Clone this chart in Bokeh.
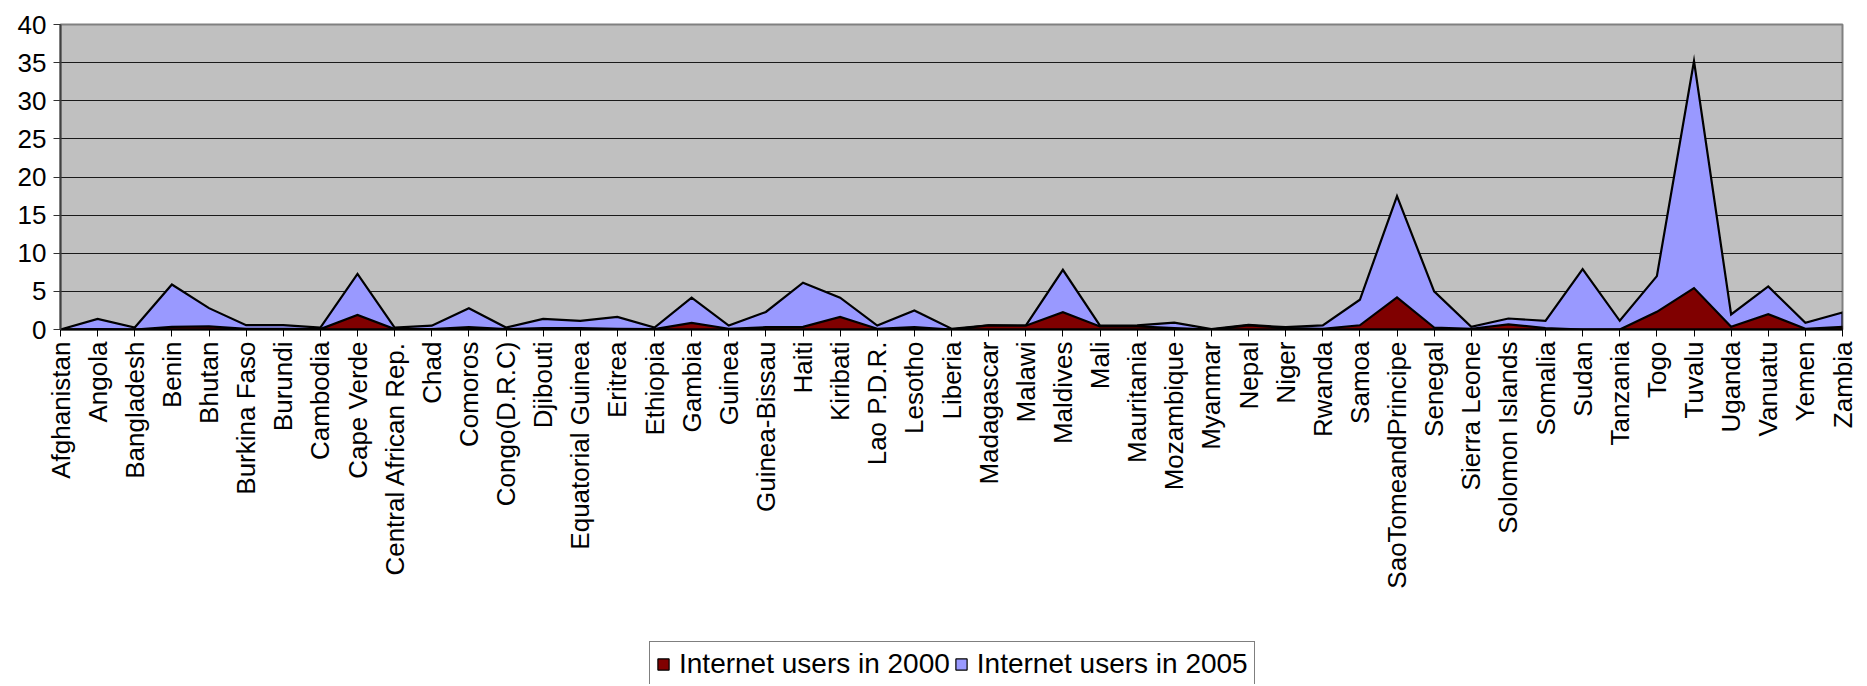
import math
from bokeh.plotting import figure
from bokeh.layouts import column
from bokeh.models import Range1d, FixedTicker, Legend, LegendItem, ColumnDataSource
from bokeh.embed import file_html
from bokeh.resources import INLINE

countries = ["Afghanistan", "Angola", "Bangladesh", "Benin", "Bhutan", "Burkina Faso",
             "Burundi", "Cambodia", "Cape Verde", "Central African Rep.", "Chad", "Comoros",
             "Congo(D.R.C)", "Djibouti", "Equatorial Guinea", "Eritrea", "Ethiopia", "Gambia",
             "Guinea", "Guinea-Bissau", "Haiti", "Kiribati", "Lao P.D.R.", "Lesotho", "Liberia",
             "Madagascar", "Malawi", "Maldives", "Mali", "Mauritania", "Mozambique", "Myanmar",
             "Nepal", "Niger", "Rwanda", "Samoa", "SaoTomeandPrincipe", "Senegal", "Sierra Leone",
             "Solomon Islands", "Somalia", "Sudan", "Tanzania", "Togo", "Tuvalu", "Uganda",
             "Vanuatu", "Yemen", "Zambia"]

users_2000 = [0, 0.05, 0, 0.35, 0.4, 0.1, 0.1, 0.05, 1.9, 0.05, 0.05, 0.3, 0.05, 0.2, 0.2,
              0.1, 0.05, 0.87, 0.1, 0.3, 0.35, 1.65, 0.1, 0.3, 0.0, 0.55, 0.5, 2.26, 0.4, 0.4,
              0.2, 0.0, 0.55, 0.2, 0.1, 0.55, 4.2, 0.26, 0.1, 0.66, 0.2, 0.0, 0.0, 2.32, 5.43,
              0.35, 2.01, 0.1, 0.35]

users_2005 = [0, 1.4, 0.26, 5.9, 2.8, 0.57, 0.57, 0.26, 7.3, 0.26, 0.5, 2.8, 0.26, 1.4, 1.13,
              1.65, 0.26, 4.17, 0.52, 2.3, 6.13, 4.17, 0.52, 2.5, 0.1, 0.55, 0.5, 7.83, 0.5, 0.55,
              0.9, 0.05, 0.6, 0.3, 0.55, 3.9, 17.5, 5.0, 0.35, 1.44, 1.14, 7.92, 1.14, 7.0, 35.2,
              1.97, 5.65, 0.88, 2.23]

y_ticks = [0, 5, 10, 15, 20, 25, 30, 35, 40]
series_labels = ["Internet users in 2000", "Internet users in 2005"]
series_colors = ["#800000", "#9999FF"]

FONT = "Liberation Sans"
n = len(countries)
idx = list(range(n))

# closed polygons (area down to the baseline) built from the data
xs_poly = idx + [idx[-1], idx[0]]
poly_2005 = ColumnDataSource(dict(x=xs_poly, y=users_2005 + [0, 0]))
poly_2000 = ColumnDataSource(dict(x=xs_poly, y=users_2000 + [0, 0]))

W = 1859
H_MAIN = 640
H_LEG = 44

p = figure(width=W, height=H_MAIN, output_backend="svg", toolbar_location=None,
           x_range=Range1d(idx[0], idx[-1]), y_range=Range1d(y_ticks[0], y_ticks[-1]),
           min_border_left=60, min_border_right=17, min_border_top=24,
           min_border_bottom=H_MAIN - 329)

p.background_fill_color = "#C0C0C0"
p.border_fill_color = "white"
p.outline_line_color = "#808080"
p.outline_line_width = 2

p.patch(x="x", y="y", source=poly_2005, fill_color=series_colors[1],
        line_color="black", line_width=2.2, line_join="miter")
p.patch(x="x", y="y", source=poly_2000, fill_color=series_colors[0],
        line_color="black", line_width=2.2, line_join="miter")

# axes
p.xaxis.ticker = FixedTicker(ticks=idx)
p.xaxis.major_label_overrides = {i: c for i, c in enumerate(countries)}
p.xaxis.major_label_orientation = math.pi / 2
p.xaxis.major_label_text_font = FONT
p.xaxis.major_label_text_font_size = "26px"
p.xaxis.major_label_text_color = "black"
p.xaxis.major_label_standoff = 5
p.xaxis.major_tick_in = 0
p.xaxis.major_tick_out = 7
p.xaxis.major_tick_line_color = "black"
p.xaxis.minor_tick_line_color = None
p.xaxis.axis_line_color = "black"
p.xaxis.axis_line_width = 2

p.yaxis.ticker = FixedTicker(ticks=y_ticks)
p.yaxis.major_label_text_font = FONT
p.yaxis.major_label_text_font_size = "26px"
p.yaxis.major_label_text_color = "black"
p.yaxis.major_label_standoff = 7
p.yaxis.major_tick_in = 0
p.yaxis.major_tick_out = 7
p.yaxis.major_tick_line_color = "#333333"
p.yaxis.minor_tick_line_color = None
p.yaxis.axis_line_color = "#404040"
p.yaxis.axis_line_width = 2

p.xgrid.visible = False
p.ygrid.ticker = FixedTicker(ticks=y_ticks)
p.ygrid.grid_line_color = "#1a1a1a"
p.ygrid.grid_line_width = 1.2
p.ygrid.level = "underlay"

# legend strip below the chart (its renderers share the chart's data and stay hidden)
pl = figure(width=W, height=H_LEG, output_backend="svg", toolbar_location=None,
            x_axis_type=None, y_axis_type=None,
            x_range=Range1d(0, 1), y_range=Range1d(0, 1),
            min_border=0, min_border_left=0, min_border_right=0,
            min_border_top=0, min_border_bottom=0)
pl.outline_line_color = None
pl.background_fill_color = "white"
pl.border_fill_color = "white"
pl.xgrid.visible = False
pl.ygrid.visible = False

h2000 = pl.patch(x="x", y="y", source=poly_2000, fill_color=series_colors[0],
                 line_color="black", line_width=1.2, visible=False)
h2005 = pl.patch(x="x", y="y", source=poly_2005, fill_color=series_colors[1],
                 line_color="black", line_width=1.2, visible=False)

legend = Legend(items=[LegendItem(label=series_labels[0], renderers=[h2000]),
                       LegendItem(label=series_labels[1], renderers=[h2005])],
                orientation="horizontal", location=(589, -3),
                border_line_color="black", border_line_width=1.2,
                background_fill_color="white", background_fill_alpha=1.0,
                label_text_font=FONT, label_text_font_size="28px",
                label_text_color="black", label_text_baseline="middle",
                glyph_width=14, glyph_height=14, label_standoff=9,
                spacing=4, padding=6, margin=0)
pl.add_layout(legend, "center")

layout = column(p, pl, spacing=0)
open("out.html", "w").write(file_html(layout, INLINE))
